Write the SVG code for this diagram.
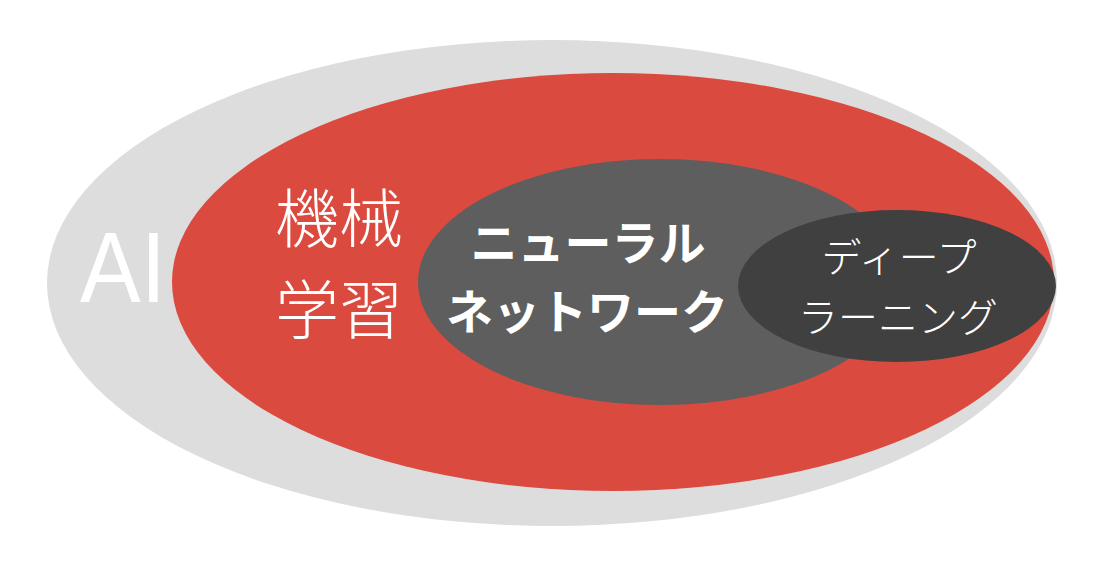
<svg xmlns="http://www.w3.org/2000/svg" width="1096" height="562" viewBox="0 0 1096 562">
<style>
.lbl{fill:#ffffff;font-family:"Noto Sans CJK JP","Noto Sans",sans-serif;}
.ai{fill:#ffffff;font-family:"Liberation Sans","Noto Sans",sans-serif;font-size:101px;}
</style>
<rect width="1096" height="562" fill="#ffffff"/>
<g id="ai">
<ellipse cx="552" cy="283" rx="505" ry="243" fill="#dddddd"/>
<text class="ai" x="80" y="302" textLength="86" lengthAdjust="spacingAndGlyphs">AI</text>
</g>
<g id="ml">
<ellipse cx="613" cy="282" rx="441" ry="209" fill="#db4a3f"/>
<text class="lbl" x="339" y="242" font-size="64" font-weight="300" text-anchor="middle">機械</text>
<text class="lbl" x="339" y="333" font-size="64" font-weight="300" text-anchor="middle">学習</text>
</g>
<g id="nn">
<ellipse cx="660" cy="282" rx="242" ry="123" fill="#5e5e5e"/>
<text class="lbl" x="588" y="260" font-size="47" font-weight="700" text-anchor="middle">ニューラル</text>
<text class="lbl" x="587" y="329" font-size="47" font-weight="700" text-anchor="middle">ネットワーク</text>
</g>
<g id="dl">
<ellipse cx="897" cy="286" rx="159" ry="76" fill="#404040"/>
<text class="lbl" x="899" y="272" font-size="40" font-weight="300" text-anchor="middle">ディープ</text>
<text class="lbl" x="898" y="332" font-size="40" font-weight="300" text-anchor="middle">ラーニング</text>
</g>
<g id="connectors"></g>
</svg>
